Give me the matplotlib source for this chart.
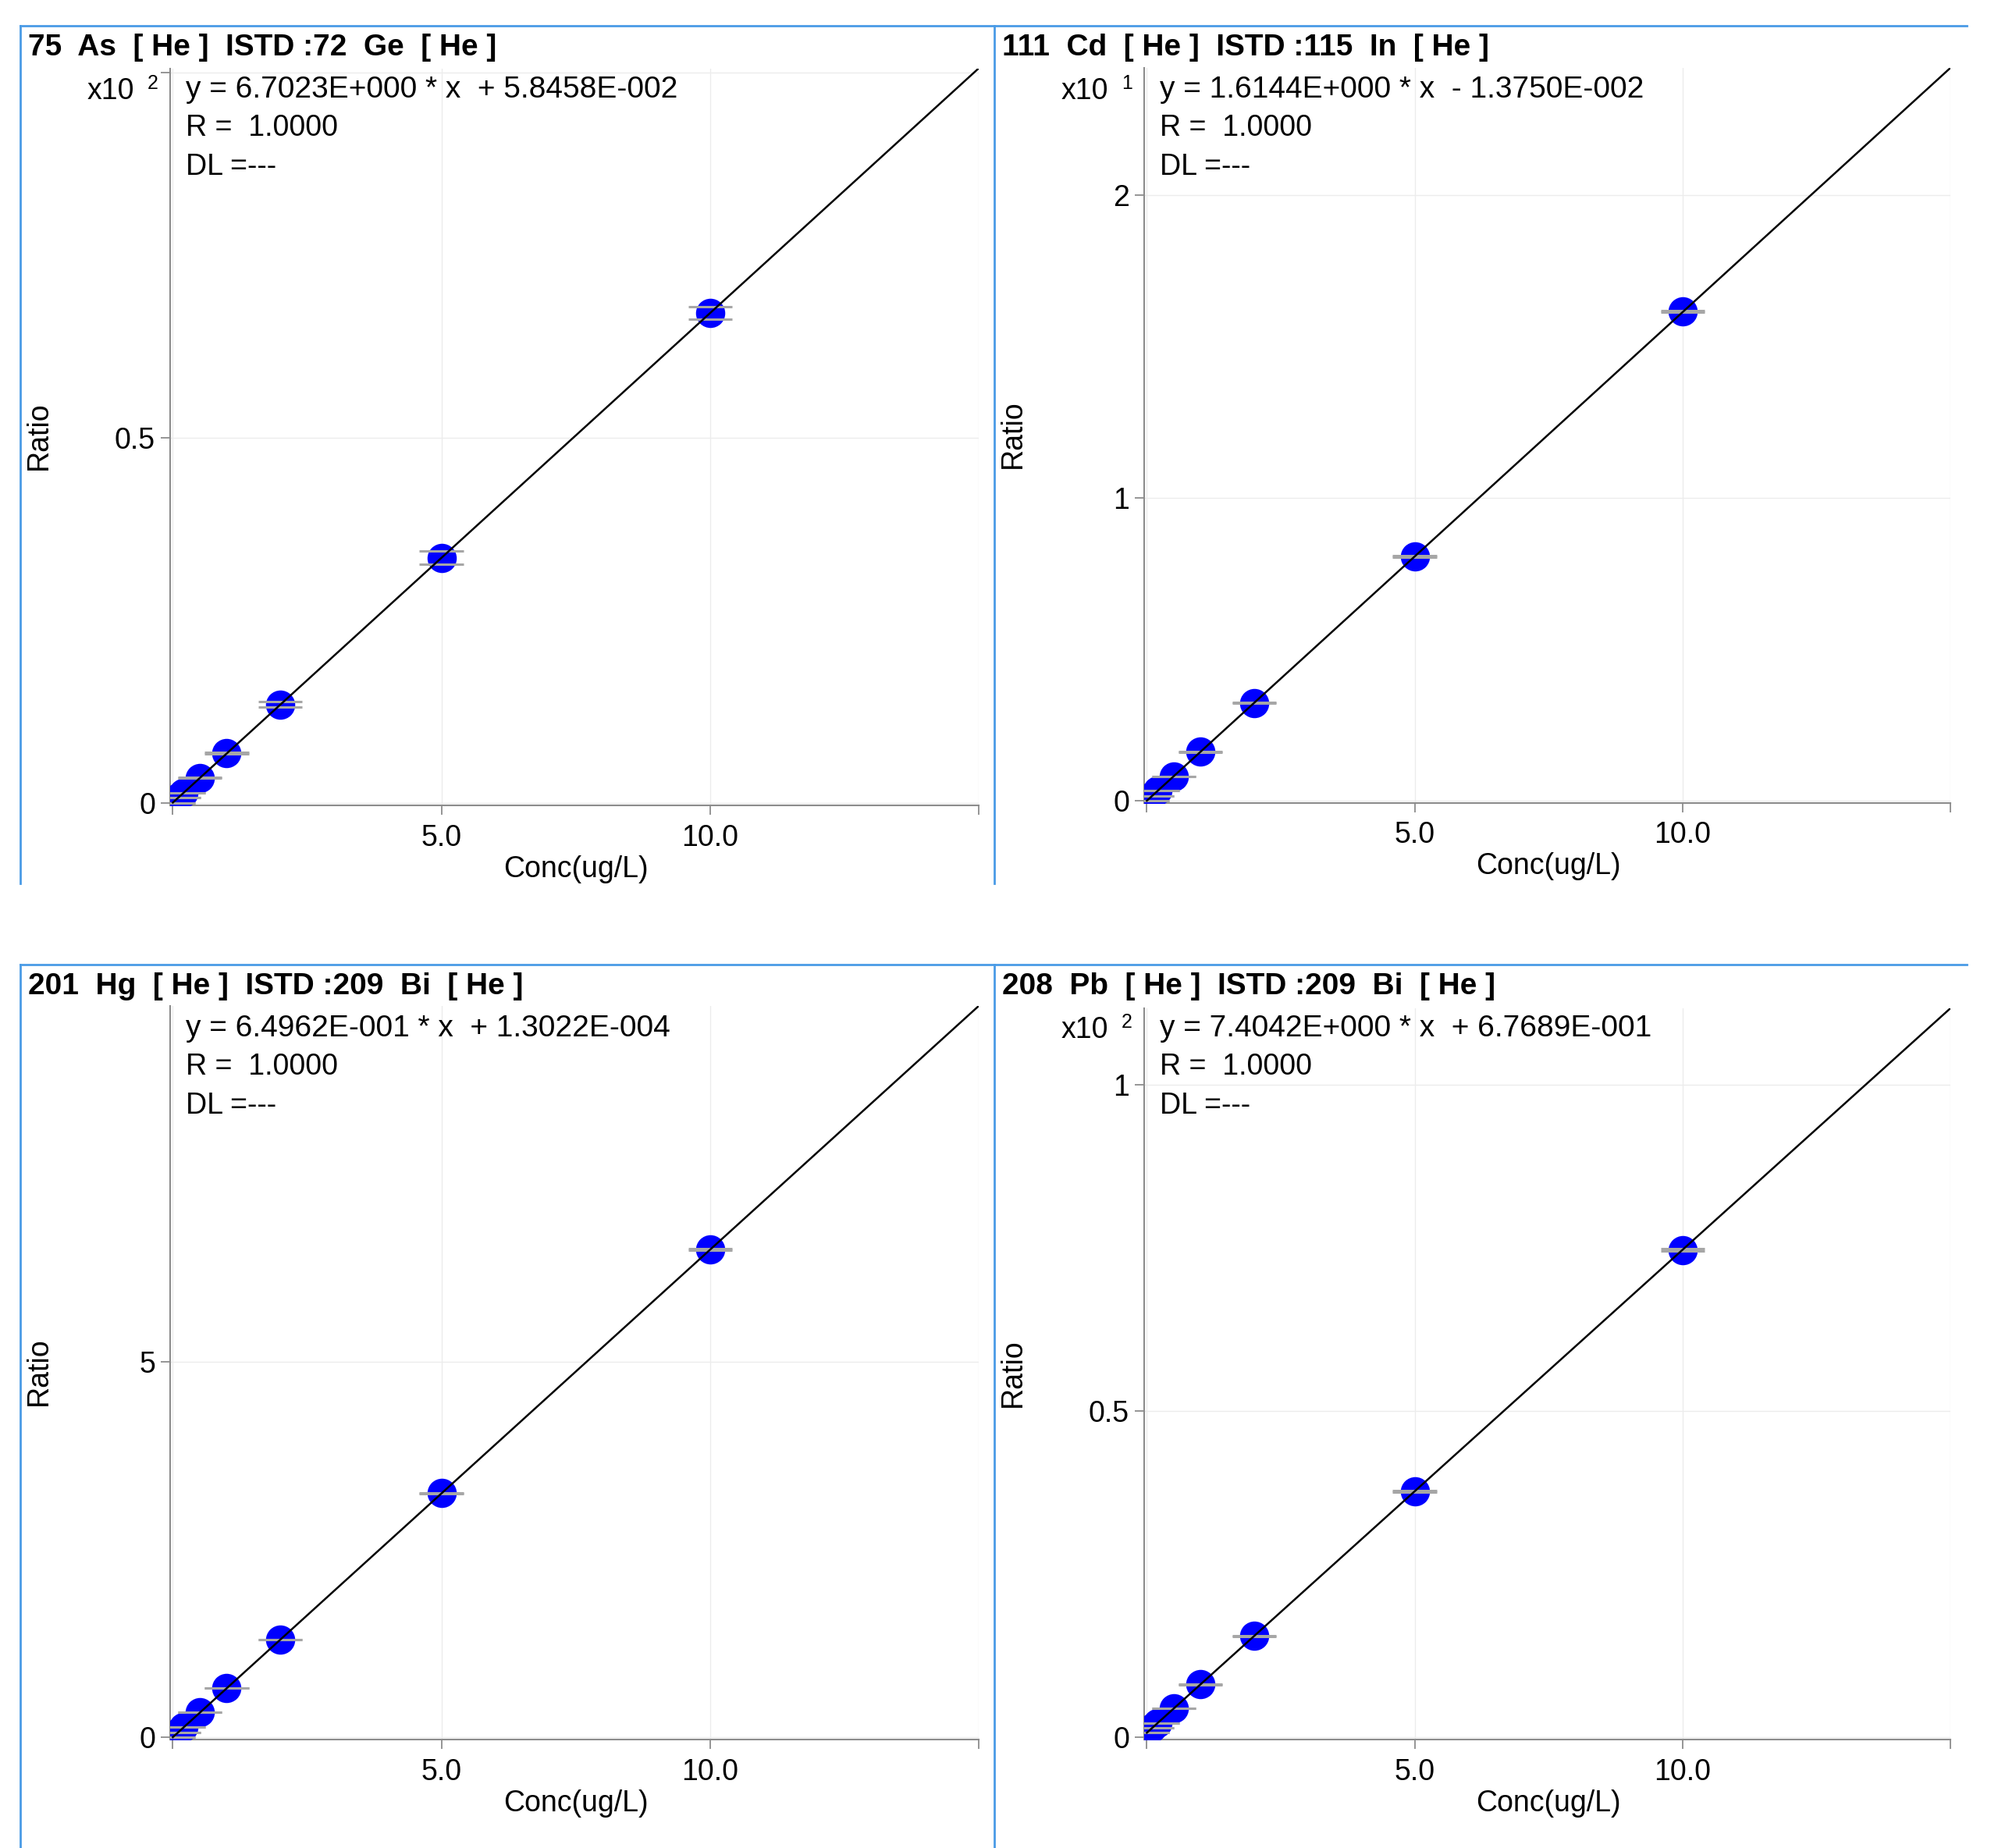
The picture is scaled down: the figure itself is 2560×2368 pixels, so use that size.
import matplotlib
matplotlib.use("Agg")
import matplotlib.pyplot as plt
from matplotlib.lines import Line2D

plt.rcParams['font.family'] = ['Liberation Sans', 'DejaVu Sans']

W, H = 2560, 2368
DPI = 100

# ---------------- data ----------------
titles = ["75  As  [ He ]  ISTD :72  Ge  [ He ]",
          "111  Cd  [ He ]  ISTD :115  In  [ He ]",
          "201  Hg  [ He ]  ISTD :209  Bi  [ He ]",
          "208  Pb  [ He ]  ISTD :209  Bi  [ He ]"]
equations = ["y = 6.7023E+000 * x  + 5.8458E-002",
             "y = 1.6144E+000 * x  - 1.3750E-002",
             "y = 6.4962E-001 * x  + 1.3022E-004",
             "y = 7.4042E+000 * x  + 6.7689E-001"]
r_texts = ["R =  1.0000"] * 4
dl_texts = ["DL =---"] * 4
slopes = [6.7023, 1.6144, 0.64962, 7.4042]
intercepts = [0.058458, -0.013750, 0.00013022, 0.67689]
scale_exp = [2, 1, 0, 2]

conc = [0, 0.1, 0.2, 0.5, 1.0, 2.0, 5.0, 10.0]
ratio_as = [0.05, 0.75, 1.40, 3.45, 6.80, 13.5, 33.6, 67.1]
ratio_cd = [0.00, 0.15, 0.31, 0.79, 1.60, 3.22, 8.06, 16.15]
ratio_hg = [0.00, 0.065, 0.13, 0.33, 0.65, 1.30, 3.25, 6.50]
ratio_pb = [0.70, 1.40, 2.20, 4.40, 8.10, 15.5, 37.7, 74.7]
err_as = [0.0, 0.0, 0.0, 0.05, 0.10, 0.40, 0.90, 0.90]
err_cd = [0.0, 0.0, 0.0, 0.0, 0.01, 0.01, 0.03, 0.03]
err_hg = [0.0, 0.0, 0.0, 0.0, 0.0, 0.003, 0.006, 0.008]
err_pb = [0.0, 0.0, 0.0, 0.0, 0.05, 0.10, 0.15, 0.15]
ratios = [ratio_as, ratio_cd, ratio_hg, ratio_pb]
errs = [err_as, err_cd, err_hg, err_pb]

yticks_list = [[0, 0.5, 1.0], [0, 1, 2], [0, 5], [0, 0.5, 1.0]]
ytick_labels = [["0", "0.5", ""], ["0", "1", "2"], ["0", "5"], ["0", "0.5", "1"]]
xticks = [0, 5, 10, 15]
xtick_labels = ["", "5.0", "10.0", ""]
xmin, xmax = -0.05, 15

# ---------------- layout (pixels) ----------------
# spine-left, spine-right, y of line top, y of ratio zero
axes_px = [
    (218, 1254, 87.5, 1029),
    (1466, 2499, 87, 1025.5),
    (218, 1254, 1289, 2226),
    (1466, 2499, 1292, 2226),
]
panel_top = [33, 33, 1236, 1236]
panel_left = [26, 1274, 26, 1274]

fig = plt.figure(figsize=(W / DPI, H / DPI), dpi=DPI)

def fx(px):
    return px / W

def fy(py):
    return 1 - py / H

blue_border = '#4a9be6'
for top, bottom in [(33, 1132), (1236, 2368)]:
    fig.add_artist(Line2D([fx(26), fx(2520)], [fy(top), fy(top)], color=blue_border, lw=2.0))
    fig.add_artist(Line2D([fx(26), fx(26)], [fy(top), fy(bottom)], color=blue_border, lw=2.0))
    fig.add_artist(Line2D([fx(1274), fx(1274)], [fy(top), fy(bottom)], color=blue_border, lw=2.0))

fs = 27
grey = '#8c8c8c'
for i in range(4):
    l, r, t, y0 = axes_px[i]
    b = y0 + 3
    ax = fig.add_axes([fx(l), fy(b), fx(r) - fx(l), fy(t) - fy(b)])
    sc = 10.0 ** scale_exp[i]
    ytop = (slopes[i] * xmax + intercepts[i]) / sc
    ax.set_xlim(xmin, xmax)
    ax.set_ylim(-3.0 / (y0 - t) * ytop, ytop)

    xs = conc
    ys = [v / sc for v in ratios[i]]
    es = [e / sc for e in errs[i]]
    ax.plot(xs, ys, 'o', color='#0000ff', markersize=27, markeredgewidth=0, zorder=3)
    w = 0.41
    ax.hlines([y + e for y, e in zip(ys, es)], [x - w for x in xs], [x + w for x in xs],
              color='#a6a6a6', lw=2.2, zorder=4)
    ax.hlines([y - e for y, e in zip(ys, es)], [x - w for x in xs], [x + w for x in xs],
              color='#a6a6a6', lw=2.2, zorder=4)
    lx = [0, xmax]
    ly = [(slopes[i] * v + intercepts[i]) / sc for v in lx]
    ax.plot(lx, ly, color='black', lw=1.8, zorder=5)

    ax.set_xticks(xticks)
    ax.set_xticklabels(xtick_labels)
    ax.set_yticks(yticks_list[i])
    ax.set_yticklabels(ytick_labels[i])
    ax.grid(True, color='#ececec', lw=1.0, zorder=0)
    ax.set_axisbelow(True)
    for s in ['top', 'right']:
        ax.spines[s].set_visible(False)
    for s in ['left', 'bottom']:
        ax.spines[s].set_color(grey)
        ax.spines[s].set_linewidth(1.5)
    ax.tick_params(axis='both', direction='out', length=8.6, width=1.3, color=grey,
                   labelsize=fs, labelcolor='black')
    ax.tick_params(axis='x', pad=8.5)
    ax.tick_params(axis='y', pad=5)

    # axis labels
    x_mid = (l + (r - l) * (7.5 - xmin) / (xmax - xmin))
    fig.text(fx(x_mid), fy(y0 + 85), "Conc(ug/L)", fontsize=fs, ha='center', va='center')
    fig.text(fx(l - 168), fy((t + y0) / 2), "Ratio", fontsize=fs, rotation=90,
             ha='center', va='center')

    # title and annotation texts
    fig.text(fx(panel_left[i] + 10), fy(panel_top[i] + 38), titles[i], fontsize=28,
             fontweight='bold', ha='left', va='baseline')
    base = panel_top[i] + 92
    fig.text(fx(l + 20), fy(base), equations[i], fontsize=28, ha='left', va='baseline')
    fig.text(fx(l + 20), fy(base + 49), r_texts[i], fontsize=fs, ha='left', va='baseline')
    fig.text(fx(l + 20), fy(base + 99), dl_texts[i], fontsize=fs, ha='left', va='baseline')
    if scale_exp[i] != 0:
        fig.text(fx(l - 46), fy(base + 2), "x10", fontsize=fs, ha='right', va='baseline')
        fig.text(fx(l - 29), fy(base - 11), str(scale_exp[i]), fontsize=18,
                 ha='left', va='baseline')

fig.savefig("out.png", dpi=DPI)
